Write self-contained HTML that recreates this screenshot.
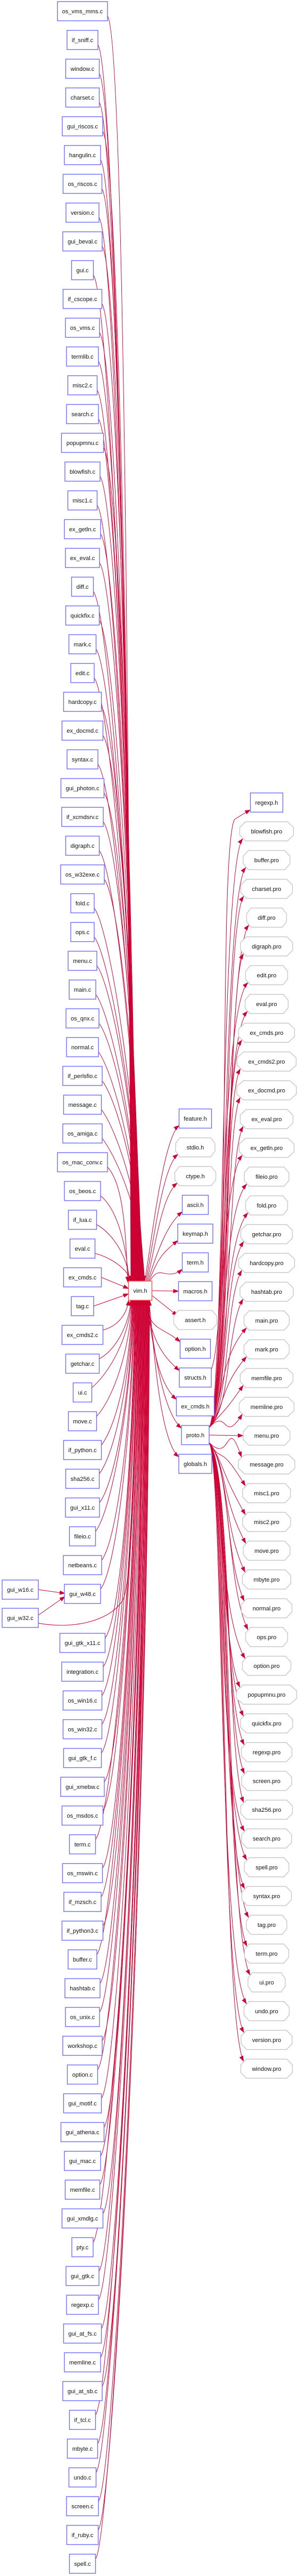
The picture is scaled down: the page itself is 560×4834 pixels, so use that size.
<!DOCTYPE html>
<html><head><meta charset="utf-8">
<style>
html,body{margin:0;padding:0;background:#fff;}
svg{display:block;}
text{font-family:"Liberation Sans",Arial,sans-serif;font-size:11px;fill:#111;}
</style></head>
<body>
<svg id="s" xmlns="http://www.w3.org/2000/svg" width="560" height="4834" viewBox="0 0 560 4834">
<defs><marker id="a" markerWidth="11" markerHeight="8" refX="10" refY="4" orient="auto" markerUnits="userSpaceOnUse"><path d="M0,0L11,4L0,8z" fill="#cc0033"/></marker></defs>
<g id="E" fill="none" stroke="#cc0033" stroke-width="1"></g>
<g id="N"></g>
<g id="T"></g>
</svg>
<script>
var NS="http://www.w3.org/2000/svg";
var E=document.getElementById('E'),N=document.getElementById('N'),TG=document.getElementById('T');
function el(tag,attrs,parent){var e=document.createElementNS(NS,tag);for(var k in attrs)e.setAttribute(k,attrs[k]);parent.appendChild(e);return e;}
function txt(cx,top,s){var t=el('text',{x:cx,y:top+22,'text-anchor':'middle'},TG);t.textContent=s;var l=0;try{l=t.getComputedTextLength();}catch(e){}if(!l)l=s.length*6;return l;}
function box(cx,top,s,stroke){var l=txt(cx,top,s);var w=Math.round(l+18);el('rect',{x:cx-w/2,y:top,width:w,height:36,fill:'#fff',stroke:stroke||'#6b6bff','stroke-width':1.4},N);return {l:cx-w/2,r:cx+w/2,w:w,top:top};}
function oct(cx,top,s){var l=txt(cx,top,s);var w=Math.round(l+42),x=cx-w/2,h=36,d=w*0.11;
var p=[[x,top+h*0.3],[x+d,top],[x+w-d,top],[x+w,top+h*0.3],[x+w,top+h*0.7],[x+w-d,top+h],[x+d,top+h],[x,top+h*0.7]];
el('polygon',{points:p.map(function(q){return q.join(',')}).join(' '),fill:'#fff',stroke:'#c8c8c8','stroke-width':1.4},N);return {l:x,r:x+w,w:w,top:top};}
function path(d,arrow){var a={d:d};if(arrow)a['marker-end']='url(#a)';el('path',a,E);}

var L=["os_vms_mms.c","if_sniff.c","window.c","charset.c","gui_riscos.c","hangulin.c","os_riscos.c","version.c","gui_beval.c","gui.c","if_cscope.c","os_vms.c","termlib.c","misc2.c","search.c","popupmnu.c","blowfish.c","misc1.c","ex_getln.c","ex_eval.c","diff.c","quickfix.c","mark.c","edit.c","hardcopy.c","ex_docmd.c","syntax.c","gui_photon.c","if_xcmdsrv.c","digraph.c","os_w32exe.c","fold.c","ops.c","menu.c","main.c","os_qnx.c","normal.c","if_perlsfio.c","message.c","os_amiga.c","os_mac_conv.c","os_beos.c","if_lua.c","eval.c","ex_cmds.c","tag.c","ex_cmds2.c","getchar.c","ui.c","move.c","if_python.c","sha256.c","gui_x11.c","fileio.c","netbeans.c","gui_w48.c",
"gui_gtk_x11.c","integration.c","os_win16.c","os_win32.c","gui_gtk_f.c","gui_xmebw.c","os_msdos.c","term.c","os_mswin.c","if_mzsch.c","if_python3.c","buffer.c","hashtab.c","os_unix.c","workshop.c","option.c","gui_motif.c","gui_athena.c","gui_mac.c","memfile.c","gui_xmdlg.c","pty.c","gui_gtk.c","regexp.c","gui_at_fs.c","memline.c","gui_at_sb.c","if_tcl.c","mbyte.c","undo.c","screen.c","if_ruby.c","spell.c"];
function ltop(i){return i<=55?3+54*i:3065+54*(i-56);}

var VT=2404,VB=2440;
var vim=box(263.5,VT,"vim.h","#ff4d4d");

/* left column */
var nUp=0,nDn=0;
L.forEach(function(s,i){var t=ltop(i);var b=box(155,t,s);
 var r=b.r,yc=t+18;
 if(t+18<2380){ // above -> top of vim.h
   var y0=t+27,ex,ey=VT;
   if(i>=40){ex=240+(i-40)*2;ey=VT+2;}else{ex=246+ (i/40)*26;}
   var dy=ey-y0;
   path('M'+r+','+y0+' C'+(r+30)+','+(y0+Math.min(40,0.15*dy))+' '+(ex-4)+','+(ey-0.45*dy)+' '+ex+','+ey,true);
 } else if(s=="ex_cmds.c"){
   path('M'+r+','+(yc)+' L'+vim.l+','+(VT+14),true);
 } else if(s=="tag.c"){
   path('M'+r+','+(yc)+' L'+vim.l+','+(VT+24),true);
 } else {
   var y0=t+9,ex=(i==46)?242:(246+((i-47)/42)*36),ey=VB;var dy=y0-ey;
   path('M'+r+','+y0+' C'+(r+30)+','+(y0-Math.min(40,0.15*dy))+' '+(ex-4)+','+(ey+0.45*dy)+' '+ex+','+ey,true);
 }
});
/* gui_w16 / gui_w32 */
var w16=box(38,2965,"gui_w16.c"),w32=box(38,3018,"gui_w32.c");
var w48l=155-30;
path('M'+w16.r+',2983 L122,2990',true);
path('M'+w32.r+',3031 L122,2996',true);
path('M'+w32.r+',3046 C150,3060 215,3035 232,3000 C250,2950 255,2700 260,2440',true);

/* middle column */
var H=[["feature.h",0],["stdio.h",1],["ctype.h",1],["ascii.h",0],["keymap.h",0],["term.h",0],["macros.h",0],["assert.h",1],["option.h",0],["structs.h",0],["ex_cmds.h",0],["proto.h",0],["globals.h",0]];
var mid={};
H.forEach(function(h,j){var t=2081+54*j;var b=h[1]?oct(367,t,h[0]):box(367,t,h[0]);mid[h[0]]=b;
 var lx=b.l+(h[1]?b.w*0.06:0);
 if(j<6){var sx=272+j*2;path('M'+sx+','+VT+' C'+(285+j*3)+','+(2330+j*8)+' '+(lx-30)+','+(t+55)+' '+lx+','+(t+31),true);}
 else if(j==6){path('M'+vim.r+','+(VT+18)+' L'+lx+','+(t+18),true);}
 else if(j==7){path('M'+vim.r+','+(VT+27)+' L'+(lx+2)+','+(t+10),true);}
 else {var sx=272+(j-8)*2;path('M'+sx+','+VB+' C'+(282+(j-8)*2)+','+(2500+(j-8)*10)+' '+(lx-35)+','+(t-25)+' '+lx+','+(t+5),true);}
});

/* right column */
var R=[["regexp.h",0],["blowfish.pro",1],["buffer.pro",1],["charset.pro",1],["diff.pro",1],["digraph.pro",1],["edit.pro",1],["eval.pro",1],["ex_cmds.pro",1],["ex_cmds2.pro",1],["ex_docmd.pro",1],["ex_eval.pro",1],["ex_getln.pro",1],["fileio.pro",1],["fold.pro",1],["getchar.pro",1],["hardcopy.pro",1],["hashtab.pro",1],["main.pro",1],["mark.pro",1],["memfile.pro",1],["memline.pro",1],["menu.pro",1],["message.pro",1],["misc1.pro",1],["misc2.pro",1],["move.pro",1],["mbyte.pro",1],["normal.pro",1],["ops.pro",1],["option.pro",1],["popupmnu.pro",1],["quickfix.pro",1],["regexp.pro",1],["screen.pro",1],["sha256.pro",1],["search.pro",1],["spell.pro",1],["syntax.pro",1],["tag.pro",1],["term.pro",1],["ui.pro",1],["undo.pro",1],["version.pro",1],["window.pro",1]];
var P=mid["proto.h"],S=mid["structs.h"];
R.forEach(function(h,k){var t=1488+54*k;var b=h[1]?oct(501,t,h[0]):box(501,t,h[0]);
 if(k==0){path('M'+S.r+','+(S.top+3)+' C435,2480 410,1600 '+(b.l-30)+','+(t+50)+' C'+(b.l-15)+','+(t+40)+' '+(b.l-8)+','+(t+36)+' '+b.l+','+(t+32),true);return;}
 var d=b.w*0.09;
 if(k<22){var ex=b.l+d*0.6,ey=t+32;var off=(k%6)*3;
   path('M'+P.r+','+(P.top+4)+' C'+(420+off)+','+(2640)+' '+(410+off)+','+(t+90)+' '+ex+','+ey,true);}
 else if(k==22){path('M'+P.r+','+(P.top+18)+' L'+b.l+','+(t+18),true);}
 else {var ex=b.l+d*0.6,ey=t+4;var off=(k%6)*3;
   path('M'+P.r+','+(P.top+32)+' C'+(420+off)+','+(2750)+' '+(410+off)+','+(t-80)+' '+ex+','+ey,true);}
});
</script>
</body></html>
